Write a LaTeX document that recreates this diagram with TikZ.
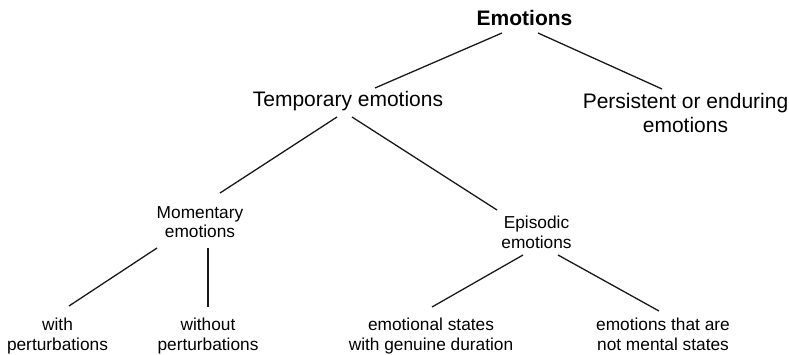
\documentclass[tikz,border=0pt]{standalone}
\usepackage{fontspec}
\setmainfont{Liberation Sans}
\begin{document}
\begin{tikzpicture}[x=1pt,y=-1pt,
  big/.style={font=\fontsize{21}{24}\selectfont, inner sep=0pt, align=center, anchor=base},
  small/.style={font=\fontsize{17.3}{20}\selectfont, inner sep=0pt, align=center, anchor=base},
  link/.style={line width=1.3pt, black!90}]
\useasboundingbox (0,0) rectangle (789,355);
\node[big, font=\fontsize{21}{24}\selectfont\bfseries] (emo) at (524.5,26) {Emotions};
\node[big] (temp) at (348,106.7) {Temporary emotions};
\node[big] (pers) at (685.5,133) {Persistent or enduring\\emotions};
\node[small] (mom) at (200,238) {Momentary\\emotions};
\node[small] (epi) at (536.5,248) {Episodic\\emotions};
\node[small] (with) at (57.5,350) {with\\perturbations};
\node[small] (without) at (208,350) {without\\perturbations};
\node[small] (ems) at (431,350) {emotional states\\with genuine duration};
\node[small] (notm) at (663,350) {emotions that are\\not mental states};
\draw[link] ([shift={(-22.5,7)}]emo.base) -- ([shift={(27,-18.7)}]temp.base);
\draw[link] ([shift={(13.5,7)}]emo.base) -- ([shift={(-23.5,-44)}]pers.base);
\draw[link] ([shift={(-11,10.3)}]temp.base) -- ([shift={(20,-45)}]mom.base);
\draw[link] ([shift={(4,10.3)}]temp.base) -- ([shift={(-39.5,-38)}]epi.base);
\draw[link] ([shift={(-43,10)}]mom.base) -- ([shift={(11.5,-44)}]with.base);
\draw[link] ([shift={(8,10)}]mom.base) -- ([shift={(0,-43)}]without.base);
\draw[link] ([shift={(-13.5,7)}]epi.base) -- ([shift={(1,-43)}]ems.base);
\draw[link] ([shift={(21.5,7)}]epi.base) -- ([shift={(-4,-39)}]notm.base);
\end{tikzpicture}
\end{document}
